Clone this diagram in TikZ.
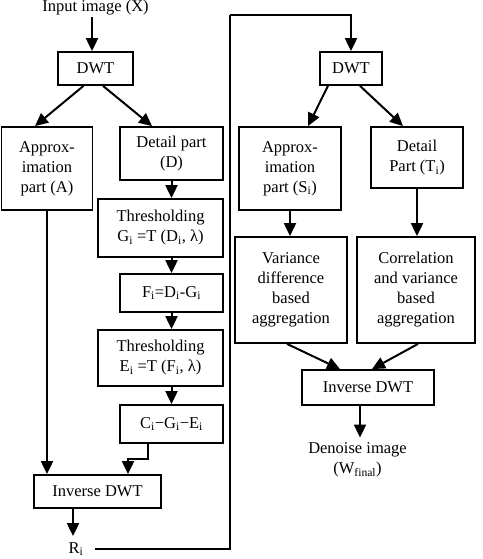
\documentclass[tikz,border=0pt]{standalone}
\usepackage{fontspec}
\setmainfont{Liberation Serif}
\usetikzlibrary{arrows.meta}
\newcommand{\sub}[1]{\textsubscript{#1}}

\begin{document}
\begin{tikzpicture}[x=1pt,y=-1pt,font=\fontsize{16.5}{20}\selectfont,
  box/.style={draw,line width=1.8pt,align=center,inner sep=0pt},
  arr/.style={-{Triangle[length=13pt,width=12pt]},line width=2pt},
  lbl/.style={align=center,inner sep=1pt}]
  \useasboundingbox (0,0) rectangle (482,559);

  \node[lbl] (inp) at (95.5,8) {Input image (X)};
  \node[box,minimum width=75pt,minimum height=33pt] (dwtA) at (95.5,68.5) {DWT};
  \node[box,minimum width=91pt,minimum height=83pt] (apxA) at (47,168.5) {Approx-\\imation\\part (A)};
  \node[box,minimum width=103pt,minimum height=53pt] (detA) at (171.5,153.5) {Detail part\\(D)};
  \node[box,minimum width=125pt,minimum height=58pt] (thrA) at (160.5,228) {Thresholding\\G\sub{i} =T (D\sub{i}, λ)};
  \node[box,minimum width=103pt,minimum height=38pt] (fA) at (171.5,293) {F\sub{i}=D\sub{i}-G\sub{i}};
  \node[box,minimum width=125pt,minimum height=56pt] (thrB) at (160.5,358) {Thresholding\\E\sub{i} =T (F\sub{i}, λ)};
  \node[box,minimum width=103pt,minimum height=38pt] (cA) at (171.5,424) {C\sub{i}−G\sub{i}−E\sub{i}};
  \node[box,minimum width=127pt,minimum height=33pt] (invA) at (97.5,491.5) {Inverse DWT};
  \node[lbl] (rA) at (76,549) {R\sub{i}};

  \node[box,minimum width=62pt,minimum height=33pt] (dwtB) at (351,68.5) {DWT};
  \node[box,minimum width=102pt,minimum height=83pt] (apxB) at (290,168.5) {Approx-\\imation\\part (S\sub{i})};
  \node[box,minimum width=92pt,minimum height=61pt] (detB) at (417,157.5) {Detail\\Part (T\sub{i})};
  \node[box,minimum width=112pt,minimum height=106pt] (varB) at (291,290) {Variance\\difference\\based\\aggregation};
  \node[box,minimum width=118pt,minimum height=106pt] (corB) at (416,290) {Correlation\\and variance\\based\\aggregation};
  \node[box,minimum width=132pt,minimum height=35pt] (invB) at (368,387.5) {Inverse DWT};
  \node[lbl] (den) at (357.5,460) {Denoise image\\(W\sub{final})};
  \coordinate (turn) at (230,15);

  \draw[arr] ([xshift=-3.5pt]inp.south) -- ([xshift=-3.5pt]dwtA.north);
  \draw[arr] ([xshift=-12pt]dwtA.south) -- ([xshift=-12pt]apxA.north);
  \draw[arr] ([xshift=7.5pt]dwtA.south) -- ([xshift=-19.5pt]detA.north);
  \draw[arr] (detA.south) -- (detA.south |- thrA.north);
  \draw[arr] (fA.north |- thrA.south) -- (fA.north);
  \draw[arr] (fA.south) -- (fA.south |- thrB.north);
  \draw[arr] (cA.north |- thrB.south) -- (cA.north);
  \draw[arr] ([xshift=-23.5pt]cA.south) -- ++(0,15) -| ([xshift=30.5pt]invA.north);
  \draw[arr] (apxA.south) -- (apxA.south |- invA.north);
  \draw[arr] ([xshift=-24.5pt]invA.south) -- ([xshift=-3pt,yshift=5pt]rA.north);
  \draw[line width=1.2pt] ([xshift=10pt]rA.east) -| (turn);
  \draw[arr] (turn) -| (dwtB.north);

  \draw[arr] ([xshift=-23pt]dwtB.south) -- ([xshift=18pt]apxB.north);
  \draw[arr] ([xshift=9pt]dwtB.south) -- ([xshift=-14pt]detB.north);
  \draw[arr] (apxB.south) -- (apxB.south |- varB.north);
  \draw[arr] (detB.south) -- (detB.south |- corB.north);
  \draw[arr] ([xshift=-4pt]varB.south) -- ([xshift=-28pt]invB.north);
  \draw[arr] ([xshift=2pt]corB.south) -- ([xshift=4pt]invB.north);
  \draw[arr] ([xshift=-8pt]invB.south) -- ([xshift=2.5pt,yshift=4pt]den.north);
\end{tikzpicture}
\end{document}
